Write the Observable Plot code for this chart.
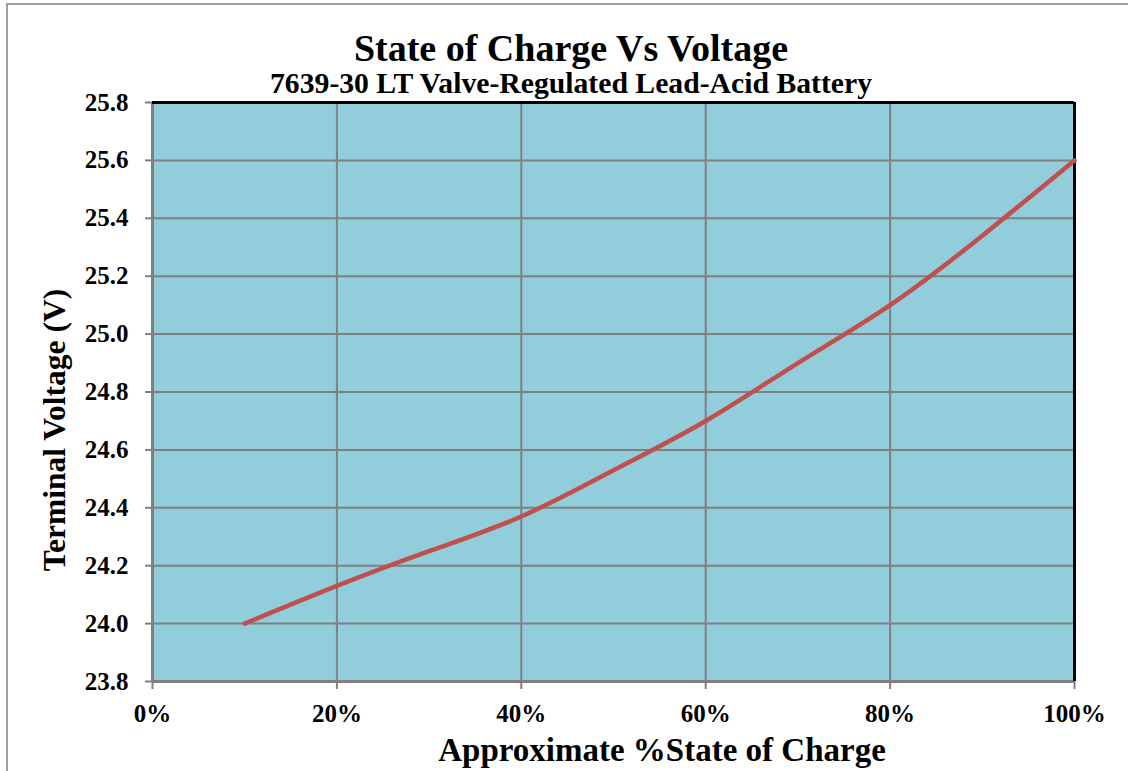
<!DOCTYPE html>
<html>
<head>
<meta charset="utf-8">
<script src="https://cdn.jsdelivr.net/npm/d3@7"></script>
<script src="https://cdn.jsdelivr.net/npm/@observablehq/plot@0.6"></script>
<style>
  html, body { margin: 0; padding: 0; background: #fff; }
  #wrap { position: relative; width: 1128px; height: 771px; overflow: hidden;
          font-family: "Liberation Serif", "Times New Roman", serif; font-weight: bold; color: #000; }
  #border { position: absolute; left: 6px; top: 3px; width: 1300px; height: 1000px; border: 2px solid #a0a0a0; }
  .t { position: absolute; white-space: nowrap; line-height: 1; text-align: center; }
  #chart { position: absolute; left: 0; top: 0; }
</style>
</head>
<body>
<div id="wrap">
  <div id="border"></div>
  <div id="chart"></div>
  <div class="t" id="title" style="left:171px; width:800px; top:29px; font-size:38px;">State of Charge Vs Voltage</div>
  <div class="t" id="subtitle" style="left:171px; width:800px; top:69px; font-size:29.7px;">7639-30 LT Valve-Regulated Lead-Acid Battery</div>
  <div class="t" id="xlabel" style="left:262px; width:800px; top:734px; font-size:33px;">Approximate %State of Charge</div>
  <div class="t" id="ylabel" style="left:55px; top:430px; width:400px; font-size:31.5px; transform: translate(-50%,-50%) rotate(-90deg);">Terminal Voltage (V)</div>
</div>
<script>
// Data
const soc = [10, 20, 30, 40, 50, 60, 70, 80, 90, 100];
const voltage = [24.00, 24.13, 24.25, 24.37, 24.53, 24.70, 24.90, 25.10, 25.34, 25.60];
const xTicks = [0, 20, 40, 60, 80, 100];
const yTicks = [23.8, 24.0, 24.2, 24.4, 24.6, 24.8, 25.0, 25.2, 25.4, 25.6, 25.8];

const data = soc.map((s, i) => ({soc: s, v: voltage[i]}));

const chart = Plot.plot({
  width: 1128,
  height: 771,
  marginLeft: 152,
  marginRight: 54,
  marginTop: 102,
  marginBottom: 90,
  x: {domain: [0, 100]},
  y: {domain: [23.8, 25.8]},
  style: {
    fontFamily: '"Liberation Serif", "Times New Roman", serif',
    fontSize: "25px",
    fontWeight: "bold",
    color: "#000",
    background: "transparent",
    overflow: "visible"
  },
  marks: [
    Plot.frame({fill: "#92CDDC", stroke: null}),
    Plot.gridX(xTicks, {stroke: "#808080", strokeOpacity: 1, strokeWidth: 2}),
    Plot.gridY(yTicks, {stroke: "#808080", strokeOpacity: 1, strokeWidth: 2}),
    Plot.ruleX([0], {stroke: "#808080", strokeWidth: 3}),
    Plot.ruleY([23.8], {stroke: "#808080", strokeWidth: 3}),
    Plot.ruleX([100], {stroke: "#000", strokeWidth: 3}),
    Plot.ruleY([25.8], {stroke: "#000", strokeWidth: 3}),
    Plot.axisX(xTicks, {tickFormat: d => d + "%", tickSize: 8, tickPadding: 15, label: null, stroke: "#808080", strokeWidth: 2}),
    Plot.axisY(yTicks, {tickFormat: d => d.toFixed(1), tickSize: 7, tickPadding: 17, label: null, stroke: "#808080", strokeWidth: 2}),
    Plot.line(data, {x: "soc", y: "v", stroke: "#C0504D", strokeWidth: 4.5, curve: "natural", strokeLinecap: "round"})
  ]
});
document.getElementById("chart").appendChild(chart);
</script>
</body>
</html>
